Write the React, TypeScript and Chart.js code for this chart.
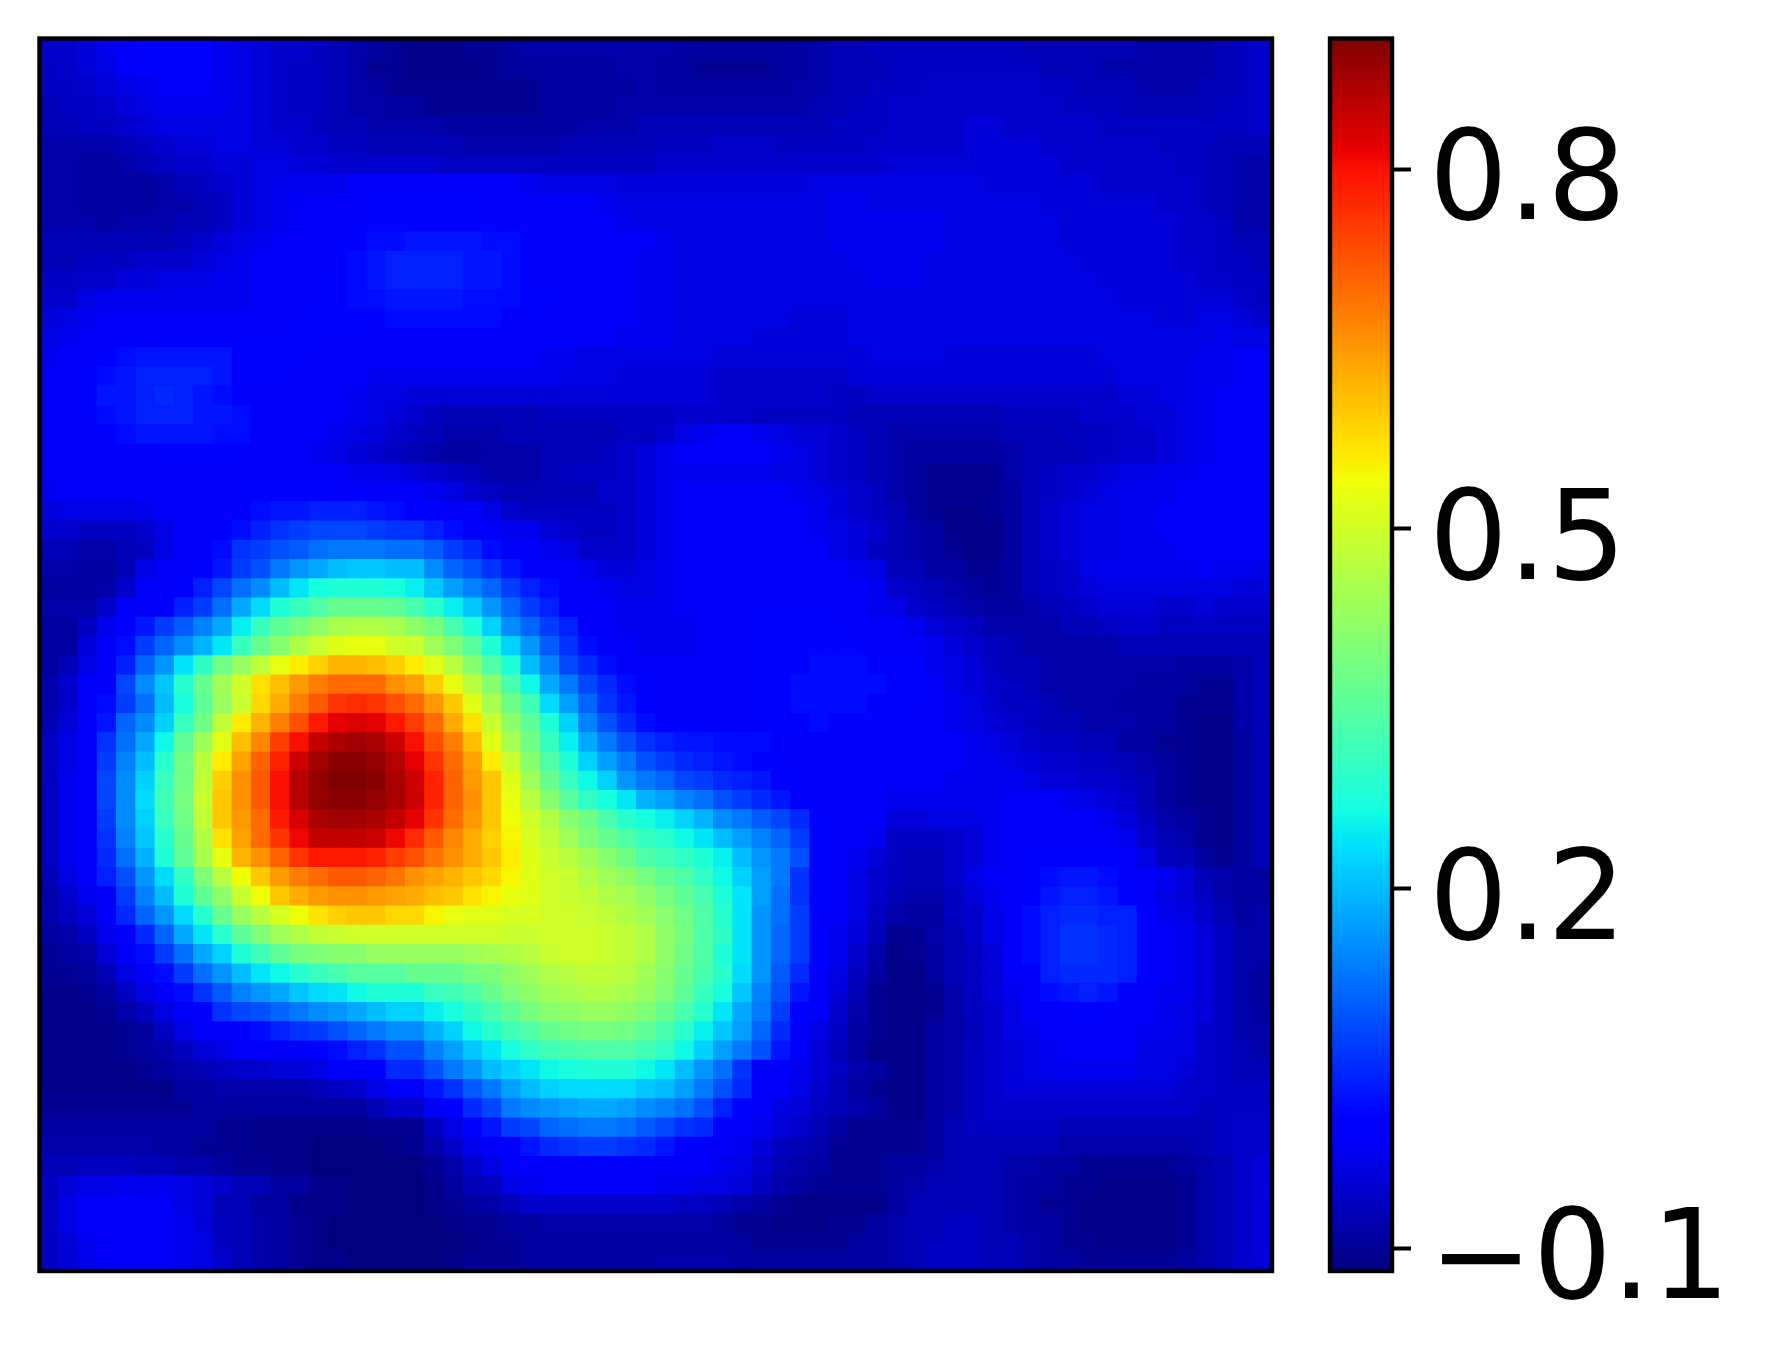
import React, { useEffect, useRef } from "react";
import { Chart, registerables } from "chart.js";

Chart.register(...registerables);

// Heat values x 100; row 0 is the top row.
const heatRows: number[][] = [
[-5,-5,-4,-2,-1,0,0,0, 0,-2,-3,-4,-5,-5,-6,-7, -8,-9,-10,-11,-11,-11,-10,-10, -9,-8,-8,-8,-8,-8,-8,-8, -8,-9,-9,-9,-9,-9,-9,-9, -8,-7,-7,-6,-6,-6,-6,-6, -6,-6,-6,-7,-7,-7,-7,-7, -7,-8,-8,-8,-8,-7,-6,-5],
[-6,-5,-4,-3,-1,0,0,0, 0,-2,-3,-4,-5,-6,-6,-7, -8,-10,-10,-11,-11,-11,-11,-10, -9,-9,-9,-9,-9,-9,-8,-8, -9,-9,-10,-10,-10,-10,-9,-9, -8,-7,-7,-7,-6,-6,-6,-6, -6,-6,-6,-6,-7,-7,-7,-8, -8,-8,-8,-8,-8,-7,-6,-5],
[-6,-6,-5,-4,-3,-2,-1,-1, -1,-2,-3,-4,-5,-6,-6,-7, -8,-9,-10,-10,-10,-10,-10,-10, -10,-10,-9,-9,-9,-9,-9,-8, -9,-9,-9,-9,-9,-9,-9,-8, -8,-7,-7,-6,-6,-6,-5,-5, -5,-5,-5,-5,-6,-6,-7,-7, -7,-8,-8,-8,-7,-7,-6,-5],
[-7,-6,-6,-5,-4,-3,-2,-2, -2,-2,-3,-4,-5,-6,-6,-7, -8,-8,-9,-9,-10,-10,-10,-10, -10,-10,-9,-9,-9,-9,-8,-8, -8,-8,-8,-8,-8,-8,-8,-8, -7,-7,-6,-6,-5,-5,-5,-5, -5,-5,-5,-5,-5,-6,-6,-6, -7,-7,-7,-7,-7,-6,-6,-5],
[-7,-7,-6,-6,-5,-4,-3,-3, -3,-3,-3,-4,-5,-5,-6,-7, -7,-8,-8,-8,-8,-9,-9,-9, -9,-9,-9,-9,-8,-8,-8,-7, -7,-7,-7,-7,-7,-7,-7,-7, -7,-6,-6,-6,-5,-5,-5,-5, -4,-4,-5,-5,-5,-5,-5,-6, -6,-6,-6,-6,-6,-6,-6,-5],
[-8,-8,-8,-8,-7,-6,-5,-4, -4,-3,-3,-4,-4,-5,-5,-6, -6,-7,-7,-7,-7,-7,-8,-8, -8,-8,-8,-7,-7,-7,-7,-7, -6,-6,-6,-5,-5,-5,-6,-6, -6,-6,-6,-5,-5,-5,-5,-5, -4,-4,-4,-4,-5,-5,-5,-5, -5,-5,-6,-6,-6,-7,-7,-7],
[-8,-8,-9,-9,-8,-7,-6,-5, -5,-4,-4,-3,-3,-4,-4,-5, -5,-5,-5,-5,-5,-6,-6,-6, -6,-6,-6,-6,-6,-6,-6,-6, -5,-5,-5,-5,-5,-5,-5,-5, -5,-5,-5,-5,-4,-4,-4,-4, -4,-4,-4,-4,-4,-5,-5,-5, -5,-5,-5,-6,-6,-7,-8,-8],
[-8,-8,-9,-9,-9,-9,-8,-7, -6,-5,-4,-3,-2,-2,-2,-2, -1,-1,-1,-1,-1,-1,-1,-1, -1,-2,-3,-3,-3,-3,-4,-4, -4,-4,-4,-4,-4,-4,-4,-4, -3,-3,-3,-3,-3,-3,-3,-3, -3,-4,-4,-4,-4,-4,-4,-5, -5,-5,-5,-5,-6,-7,-8,-8],
[-8,-8,-9,-9,-9,-9,-8,-8, -7,-6,-4,-3,-2,-1,-1,-1, -1,0,0,0,0,0,0,-1, -1,-1,-1,-1,-1,-2,-3,-3, -3,-3,-3,-3,-3,-3,-3,-3, -3,-2,-2,-3,-3,-3,-3,-3, -3,-3,-3,-3,-4,-4,-4,-4, -4,-4,-5,-5,-6,-7,-8,-8],
[-8,-8,-8,-9,-8,-8,-8,-7, -7,-6,-4,-3,-2,-1,-1,-1, 0,1,1,1,1,1,0,0, -1,-1,-1,-1,-1,-1,-2,-3, -3,-3,-3,-3,-3,-3,-3,-3, -3,-2,-2,-2,-2,-2,-2,-3, -3,-3,-3,-3,-3,-4,-4,-4, -4,-4,-4,-5,-5,-6,-8,-8],
[-7,-7,-7,-7,-7,-7,-7,-6, -5,-4,-3,-2,-1,-1,-1,1, 1,2,2,3,3,3,3,2, 2,-1,-1,-1,-1,-1,-1,-1, -2,-3,-3,-3,-3,-3,-3,-3, -3,-2,-2,-2,-2,-2,-2,-3, -3,-3,-3,-3,-3,-4,-4,-4, -4,-4,-4,-5,-5,-6,-7,-7],
[-7,-7,-6,-6,-6,-5,-5,-5, -4,-3,-2,-1,-1,-1,-1,0, 2,3,4,4,4,4,3,3, 2,0,-1,-1,-1,-1,-1,-2, -2,-3,-3,-3,-3,-3,-3,-3, -3,-3,-2,-2,-2,-2,-3,-3, -3,-3,-3,-3,-3,-3,-4,-4, -4,-4,-4,-5,-5,-6,-6,-7],
[-6,-6,-5,-5,-4,-4,-3,-3, -3,-2,-2,-1,-1,-1,0,1, 2,3,4,4,4,4,3,3, 2,1,-1,-1,-1,-1,-1,-2, -2,-3,-3,-3,-3,-3,-3,-3, -3,-3,-3,-2,-2,-2,-3,-3, -3,-3,-3,-3,-3,-3,-3,-4, -4,-4,-4,-4,-5,-5,-6,-6],
[-5,-5,-3,-2,-2,-2,-2,-2, -2,-2,-2,-1,-1,-1,0,1, 2,2,3,3,3,3,2,2, 2,1,0,-1,-1,-1,-1,-2, -2,-3,-3,-3,-3,-3,-3,-3, -3,-3,-3,-3,-3,-3,-3,-3, -3,-3,-3,-3,-3,-3,-3,-3, -4,-4,-4,-4,-4,-4,-5,-6],
[-4,-3,-2,-1,-1,-1,-1,-1, -1,-1,-1,-1,-1,0,0,1, 1,1,2,2,2,2,2,2, 1,1,-1,-1,-1,-1,-1,-2, -2,-3,-3,-3,-3,-3,-3,-4, -4,-4,-3,-3,-3,-3,-3,-3, -3,-3,-3,-3,-3,-3,-3,-3, -3,-3,-4,-4,-3,-3,-4,-5],
[-3,-2,-1,-1,-1,-1,0,1, 1,1,1,1,1,1,1,0, 0,-1,-1,-1,-1,-1,-1,-1, -1,-1,-1,-1,-1,-1,-2,-2, -2,-3,-3,-3,-3,-4,-4,-4, -4,-4,-3,-3,-3,-3,-3,-3, -3,-3,-3,-3,-3,-3,-3,-3, -3,-3,-3,-3,-3,-2,-3,-3],
[-2,-1,-1,0,2,3,3,3, 3,3,1,1,1,0,-1,-1, -1,-1,-1,-1,-1,-1,-1,-1, -1,-1,-2,-2,-3,-3,-3,-3, -3,-3,-3,-4,-4,-4,-4,-4, -4,-4,-4,-3,-3,-3,-3,-4, -4,-4,-4,-4,-4,-4,-4,-3, -3,-3,-3,-3,-2,-2,-1,-1],
[-1,-1,1,2,3,4,4,4, 4,3,1,0,0,-1,-1,-1, -1,-2,-2,-2,-2,-2,-2,-2, -2,-2,-2,-3,-3,-3,-4,-4, -4,-4,-4,-5,-5,-5,-5,-5, -5,-5,-4,-4,-4,-4,-4,-4, -4,-4,-4,-4,-4,-4,-4,-4, -3,-3,-3,-3,-2,-2,-1,-1],
[-1,-1,1,3,3,4,5,4, 3,2,1,-1,-1,-1,-1,-1, -2,-3,-3,-4,-4,-4,-4,-4, -4,-4,-4,-4,-4,-4,-4,-4, -4,-4,-4,-5,-5,-5,-5,-5, -5,-6,-6,-5,-5,-5,-5,-5, -5,-5,-5,-5,-5,-5,-5,-5, -4,-4,-3,-3,-2,-1,-1,-1],
[-1,-1,1,2,3,4,4,4, 3,3,2,-1,-1,-1,-1,-1, -2,-3,-4,-5,-6,-7,-7,-7, -7,-7,-6,-6,-6,-6,-6,-6, -6,-5,-5,-5,-5,-6,-6,-6, -6,-6,-7,-7,-7,-7,-7,-7, -7,-7,-6,-6,-6,-6,-5,-5, -5,-4,-4,-3,-2,-1,-1,-1],
[-1,-1,-1,1,2,3,3,3, 3,2,2,-1,-1,-1,-1,-2, -3,-4,-5,-6,-7,-8,-8,-8, -7,-7,-7,-7,-7,-7,-6,-6, -5,-3,-2,-1,-1,-2,-3,-4, -4,-5,-6,-7,-8,-8,-8,-8, -8,-8,-7,-7,-7,-6,-6,-6, -5,-5,-4,-3,-2,-1,-1,-1],
[-1,-1,-1,-1,-1,-1,1,1, 1,1,0,-1,-1,-1,-2,-3, -4,-5,-6,-7,-8,-9,-9,-8, -8,-8,-7,-7,-7,-6,-5,-4, -2,-1,-1,-1,-1,-1,-2,-3, -4,-5,-6,-7,-8,-9,-9,-9, -9,-9,-8,-7,-7,-7,-6,-6, -5,-5,-4,-3,-2,-1,-1,-1],
[-1,-1,-1,-1,-1,-1,-1,-1, -1,-1,-1,-1,-1,-1,-1,-1, -2,-2,-3,-4,-5,-6,-7,-8, -8,-8,-7,-6,-6,-6,-5,-4, -2,-2,-2,-2,-2,-2,-3,-3, -4,-5,-6,-7,-8,-9,-10,-10, -10,-10,-8,-7,-6,-5,-5,-4, -3,-3,-2,-2,-1,-1,-1,-1],
[-2,-1,-1,-1,-1,-1,-1,-1, -1,-1,0,0,0,0,0,0, 0,-1,-1,-1,-2,-3,-5,-6, -7,-7,-7,-7,-7,-5,-5,-4, -2,-1,-1,-1,-1,-1,-1,-2, -3,-4,-5,-6,-8,-9,-10,-10, -10,-10,-9,-7,-6,-5,-4,-3, -2,-2,-2,-1,-1,-1,-1,-1],
[-4,-3,-3,-3,-3,-2,-1,-1, -1,-1,1,2,3,3,4,4, 4,3,2,1,0,-1,-1,-3, -5,-6,-6,-6,-6,-6,-5,-4, -2,-1,-1,-1,-1,-1,-1,-1, -2,-4,-5,-6,-7,-9,-10,-11, -11,-10,-9,-7,-5,-4,-3,-3, -2,-2,-1,-1,-1,-1,-1,-1],
[-5,-5,-6,-6,-6,-5,-3,-1, -1,0,2,4,6,7,8,8, 8,7,6,6,4,2,-1,-1, -2,-2,-4,-5,-6,-6,-5,-4, -2,-1,-1,-1,-1,-1,-1,-1, -2,-3,-4,-5,-7,-8,-9,-11, -11,-11,-9,-7,-5,-4,-3,-3, -2,-2,-1,-1,-1,-1,-1,-1],
[-7,-7,-8,-8,-7,-6,-3,-1, -1,2,6,7,9,10,12,13, 13,13,12,12,10,7,5,2, -1,-1,-2,-3,-5,-5,-5,-4, -2,-1,-1,-1,-1,-1,-1,-1, -1,-3,-4,-6,-7,-8,-9,-10, -11,-11,-9,-7,-5,-4,-3,-3, -2,-2,-2,-1,-1,-1,-1,-1],
[-8,-8,-9,-9,-7,-3,-1,-1, 1,3,7,9,13,16,18,20, 21,21,20,20,15,11,9,6, 3,1,-1,-1,-2,-4,-4,-3, -2,-1,-1,-1,-1,-1,-1,-1, -1,-1,-2,-3,-7,-7,-9,-9, -10,-10,-9,-7,-6,-5,-3,-2, -2,-2,-2,-2,-1,-2,-2,-3],
[-9,-9,-9,-8,-5,-1,-1,1, 4,8,12,15,20,24,27,28, 28,28,27,25,21,17,14,11, 7,4,2,-1,-1,-2,-3,-3, -2,-1,-1,-1,-1,-1,-1,-1, -1,-1,-1,-2,-5,-6,-7,-8, -9,-10,-9,-7,-6,-5,-4,-3, -3,-3,-3,-3,-3,-3,-4,-4],
[-8,-8,-8,-5,-1,-1,1,4, 7,12,18,23,28,31,34,37, 37,37,36,33,29,25,21,16, 11,7,4,1,-1,-1,-2,-2, -2,-1,-1,-1,-1,0,0,0, 0,-1,-1,-2,-3,-5,-6,-7, -8,-9,-9,-8,-7,-6,-5,-4, -4,-4,-5,-5,-4,-5,-5,-5],
[-9,-9,-6,-2,0,3,7,10, 14,18,25,31,36,39,42,45, 46,46,45,42,39,33,28,22, 15,11,7,4,-1,-1,-2,-2, -2,-2,-1,-1,-1,0,1,1, 1,0,-1,-1,-1,-2,-4,-5, -6,-8,-8,-8,-8,-7,-7,-6, -5,-5,-6,-6,-6,-6,-6,-6],
[-9,-9,-4,-1,2,7,11,15, 19,24,31,37,41,46,49,52, 53,53,50,49,44,40,35,28, 22,16,10,6,2,-1,-1,-2, -2,-2,-1,-1,-1,0,1,1, 1,1,0,-1,-1,-1,-2,-4, -5,-6,-7,-8,-8,-8,-8,-8, -7,-7,-7,-7,-7,-7,-7,-7],
[-9,-7,-3,-1,4,11,16,24, 30,38,43,48,53,56,59,62, 62,61,59,56,52,47,41,34, 28,20,14,8,5,2,-1,-1, -1,-1,-1,-1,-1,0,1,1, 2,2,2,1,1,0,-2,-3, -4,-6,-7,-7,-8,-8,-8,-8, -8,-8,-8,-9,-9,-9,-8,-7],
[-8,-5,-1,1,8,15,21,29, 37,44,50,57,61,65,68,70, 70,70,66,64,59,53,47,41, 33,26,18,13,8,5,2,1, -1,-1,-1,-1,-1,0,1,2, 2,2,2,2,1,1,-1,-3, -4,-5,-6,-7,-8,-8,-8,-8, -8,-9,-9,-9,-10,-10,-8,-7],
[-8,-5,-1,2,7,12,20,27, 36,43,49,58,63,68,72,76, 77,76,73,70,65,60,52,45, 38,32,23,17,11,6,3,0, -1,-1,-1,-1,-1,0,1,2, 2,2,2,1,1,0,-1,-2, -3,-5,-6,-6,-7,-8,-8,-8, -9,-9,-9,-10,-10,-10,-8,-7],
[-7,-4,-1,3,11,15,22,31, 38,48,56,62,68,73,79,82, 83,82,79,75,70,63,57,49, 42,36,28,22,14,9,5,2, 1,0,-1,-1,-1,0,1,1, 2,1,1,1,0,-1,-1,-2, -3,-4,-5,-6,-7,-7,-8,-8, -8,-9,-9,-10,-11,-11,-8,-7],
[-6,-3,-1,6,12,18,26,36, 44,52,61,67,75,80,85,87, 88,87,84,80,73,68,61,52, 45,38,31,25,18,13,9,6, 4,3,3,2,2,2,0,-1, -1,-1,-1,-1,-1,-1,-1,-1, -2,-3,-4,-5,-6,-6,-7,-7, -9,-9,-10,-10,-11,-11,-9,-7],
[-6,-3,-1,7,14,20,29,38, 47,56,64,71,78,84,88,90, 90,89,86,82,76,70,64,56, 49,41,34,28,22,17,13,9, 7,5,4,3,2,1,0,-1, -1,-1,-1,-1,-1,-1,-1,-1, -2,-2,-3,-4,-5,-5,-6,-6, -7,-8,-9,-10,-11,-11,-9,-7],
[-6,-2,-1,8,15,22,31,38, 48,59,66,72,80,86,89,91, 91,90,87,84,78,71,65,60, 52,44,37,31,26,22,16,13, 11,8,7,5,4,3,1,1, -1,-1,-1,-1,-1,-1,-1,-2, -2,-2,-2,-3,-4,-4,-5,-5, -6,-7,-9,-10,-11,-11,-9,-7],
[-6,-2,-1,8,15,23,32,39, 49,60,66,72,80,86,89,90, 90,89,87,84,78,71,66,60, 53,47,41,35,30,27,24,19, 17,14,12,9,7,5,3,1, -1,-1,-1,-1,-2,-2,-2,-2, -2,-2,-1,-1,-1,-2,-3,-4, -5,-7,-9,-10,-11,-11,-9,-7],
[-6,-2,-1,7,15,22,31,38, 48,60,65,70,79,83,87,88, 88,87,85,82,76,70,65,60, 54,50,46,41,38,33,29,27, 25,22,19,15,13,10,8,5, 1,-1,-1,-1,-4,-4,-3,-3, -3,-2,-1,-1,-1,-1,-1,-2, -4,-6,-8,-9,-10,-11,-9,-7],
[-6,-2,-1,6,14,21,29,37, 46,57,64,70,76,81,85,85, 85,84,81,77,72,67,63,59, 55,51,48,44,40,37,34,31, 29,26,24,20,17,14,11,7, 1,-1,-1,-2,-6,-6,-6,-5, -4,-2,-1,-1,-1,-1,0,-1, -2,-5,-7,-8,-10,-11,-9,-7],
[-6,-2,-1,5,12,19,28,36, 45,53,62,66,71,76,79,79, 79,78,75,73,69,66,63,60, 56,52,49,47,44,41,38,34, 32,30,28,25,20,16,13,9, 1,-1,-2,-4,-6,-7,-7,-5, -4,-2,-1,0,1,1,1,0, -1,-3,-6,-7,-9,-10,-9,-7],
[-7,-3,-1,4,9,16,23,30, 40,47,54,60,65,68,70,72, 72,71,69,66,64,62,60,58, 55,52,50,49,46,44,42,39, 36,34,30,26,22,17,13,6, 1,-1,-3,-5,-6,-7,-7,-5, -3,-1,-1,1,2,3,3,2, 1,-1,-2,-4,-7,-8,-9,-9],
[-8,-5,-2,-1,7,14,20,28, 36,42,49,54,60,63,65,66, 66,65,64,63,61,60,57,55, 53,52,50,49,48,46,45,42, 39,36,33,28,24,17,12,6, 1,-1,-3,-5,-7,-8,-8,-6, -4,-2,-1,1,3,4,4,3, 1,-1,-3,-4,-6,-8,-9,-9],
[-8,-6,-4,-1,5,11,16,23, 29,37,43,47,51,54,57,59, 60,60,58,58,55,53,52,52, 51,51,50,50,49,48,46,44, 41,38,34,29,24,16,12,7, 1,-1,-3,-6,-8,-9,-9,-6, -5,-3,-1,2,4,5,5,4, 4,1,-2,-3,-5,-7,-9,-8],
[-9,-8,-6,-2,-1,5,11,18, 24,29,36,40,44,46,48,49, 50,50,50,50,50,50,50,50, 49,49,50,50,50,49,48,46, 42,39,34,30,24,16,11,7, 0,-2,-4,-7,-10,-10,-8,-7, -5,-3,-1,2,4,6,6,5, 4,1,-1,-2,-4,-6,-8,-8],
[-10,-9,-8,-4,-1,2,7,12, 18,22,28,32,36,39,40,41, 41,43,43,43,43,43,44,45, 46,47,49,50,50,49,48,46, 42,38,34,28,24,16,11,7, 0,-2,-5,-8,-11,-10,-9,-7, -6,-4,-1,2,4,6,6,5, 4,1,-1,-2,-4,-6,-8,-8],
[-10,-10,-9,-7,-3,-1,2,7, 12,16,20,24,26,29,31,33, 35,35,35,37,37,37,39,40, 42,44,46,47,48,48,47,44, 41,37,33,29,23,16,10,5, -1,-3,-6,-9,-11,-11,-9,-7, -6,-4,-1,1,4,5,5,5, 4,1,-1,-2,-4,-6,-8,-9],
[-11,-11,-10,-9,-6,-3,-1,2, 6,10,14,16,18,21,23,24, 26,28,28,28,31,32,34,37, 40,42,44,45,46,46,45,43, 40,36,31,27,21,14,9,3, -1,-4,-7,-10,-11,-11,-10,-8, -6,-4,-2,-1,2,3,4,3, 1,-1,-2,-2,-4,-6,-8,-9],
[-11,-11,-11,-10,-8,-6,-3,-1, 1,6,8,9,11,13,15,16, 18,20,22,22,25,27,30,33, 36,39,41,42,43,43,42,40, 37,33,29,24,18,13,7,0, -1,-5,-8,-10,-11,-11,-10,-8, -6,-5,-3,-1,-1,1,1,1, -1,-1,-2,-3,-4,-6,-8,-9],
[-11,-11,-11,-11,-10,-9,-6,-3, -1,-1,1,2,4,6,7,9, 11,13,15,15,19,22,26,29, 32,34,37,38,39,39,38,36, 33,29,25,21,17,11,5,-1, -3,-6,-9,-10,-11,-11,-9,-8, -7,-5,-3,-2,-1,-1,-1,-1, -1,-2,-2,-3,-5,-6,-8,-8],
[-11,-11,-11,-11,-10,-9,-8,-6, -4,-3,-1,-1,-1,-1,1,2, 4,6,9,9,14,17,21,24, 27,30,32,33,34,34,34,32, 30,26,22,17,13,9,3,-1, -4,-7,-9,-11,-11,-11,-9,-8, -6,-5,-4,-3,-2,-1,-1,-1, -1,-3,-3,-3,-5,-6,-7,-8],
[-11,-11,-11,-11,-11,-10,-9,-8, -7,-6,-5,-5,-4,-4,-3,-1, -1,1,5,5,9,13,16,20, 22,24,26,27,28,28,28,26, 24,20,16,12,6,-1,-1,-2, -4,-6,-8,-9,-11,-11,-9,-8, -6,-5,-4,-3,-2,-2,-2,-2, -2,-3,-3,-4,-5,-6,-7,-7],
[-11,-11,-11,-11,-11,-11,-11,-9, -9,-8,-8,-8,-8,-8,-7,-6, -5,-3,-1,-1,3,6,10,13, 17,20,22,23,23,23,23,21, 20,17,13,9,5,-1,-1,-3, -5,-7,-9,-10,-11,-11,-9,-8, -6,-5,-4,-4,-4,-4,-4,-4, -4,-4,-4,-5,-5,-6,-6,-6],
[-10,-10,-10,-10,-10,-10,-10,-10, -9,-9,-9,-9,-9,-9,-9,-9, -9,-7,-5,-5,-1,1,5,8, 13,15,16,17,18,18,17,15, 14,12,9,4,0,-1,-3,-4, -6,-7,-8,-9,-11,-11,-9,-8, -6,-5,-5,-5,-5,-5,-5,-5, -5,-5,-5,-5,-6,-6,-6,-6],
[-9,-9,-9,-9,-9,-9,-9,-9, -9,-10,-10,-11,-11,-11,-11,-11, -11,-10,-10,-10,-6,-3,0,3, 7,8,11,12,13,13,12,10, 8,6,5,1,-1,-2,-4,-5, -7,-9,-10,-10,-10,-10,-9,-7, -6,-6,-6,-6,-6,-7,-7,-7, -7,-7,-7,-7,-7,-6,-5,-5],
[-8,-8,-8,-8,-8,-8,-9,-9, -10,-10,-10,-11,-11,-11,-12,-12, -12,-12,-11,-10,-8,-5,-2,-1, 1,3,5,6,7,7,6,5, 3,1,-1,-1,-2,-4,-6,-7, -8,-10,-10,-10,-10,-10,-9,-7, -7,-7,-7,-7,-7,-8,-8,-8, -8,-8,-8,-8,-7,-6,-5,-5],
[-7,-7,-6,-6,-6,-7,-7,-8, -8,-9,-10,-10,-11,-11,-12,-12, -12,-12,-12,-12,-10,-8,-5,-3, -1,-1,-1,-1,0,1,1,0, -1,-1,-1,-2,-3,-5,-7,-8, -9,-10,-10,-10,-9,-9,-8,-7, -7,-7,-8,-8,-9,-9,-10,-10, -10,-10,-10,-9,-8,-7,-5,-4],
[-6,-4,-3,-3,-2,-2,-2,-3, -4,-5,-7,-7,-9,-9,-11,-11, -12,-12,-12,-12,-11,-9,-7,-6, -3,-2,-1,-1,-1,-1,-1,-1, -2,-2,-3,-3,-4,-6,-8,-9, -10,-10,-10,-10,-9,-8,-7,-7, -7,-7,-8,-9,-9,-10,-10,-11, -11,-11,-11,-10,-8,-7,-5,-4],
[-6,-3,-1,-1,-1,-1,-1,-3, -4,-7,-7,-9,-9,-11,-11,-11, -12,-12,-12,-12,-11,-10,-9,-8, -7,-5,-5,-5,-5,-5,-5,-5, -5,-6,-6,-7,-8,-9,-10,-11, -11,-11,-11,-11,-9,-7,-7,-7, -7,-7,-8,-9,-10,-10,-11,-11, -11,-11,-11,-10,-8,-7,-5,-4],
[-6,-3,-1,-1,-1,-1,-1,-2, -4,-6,-7,-8,-9,-10,-11,-12, -12,-12,-12,-12,-12,-11,-10,-10, -9,-9,-8,-8,-8,-8,-8,-8, -8,-8,-8,-9,-10,-10,-11,-11, -11,-10,-10,-9,-8,-7,-7,-6, -6,-7,-8,-9,-9,-10,-11,-11, -11,-11,-11,-10,-8,-7,-5,-4],
[-6,-4,-2,-1,-1,-1,-1,-2, -3,-6,-7,-8,-9,-10,-11,-12, -12,-12,-12,-12,-12,-12,-11,-10, -10,-9,-9,-9,-9,-9,-9,-9, -9,-9,-9,-9,-9,-10,-10,-10, -10,-10,-9,-9,-8,-7,-6,-6, -6,-7,-7,-8,-9,-10,-10,-11, -11,-11,-11,-10,-8,-7,-5,-4],
[-6,-4,-2,-1,-1,-1,-1,-2, -3,-5,-7,-8,-9,-10,-11,-11, -12,-12,-12,-12,-12,-11,-10,-10, -10,-9,-9,-9,-9,-9,-9,-9, -8,-8,-8,-8,-9,-9,-9,-9, -9,-9,-9,-9,-8,-7,-6,-6, -6,-7,-7,-8,-9,-9,-10,-10, -10,-10,-10,-9,-8,-7,-5,-4],
];

const colorMin = -0.119;
const colorMax = 0.909;
const colorbarTicks = [-0.1, 0.2, 0.5, 0.8];
const colorbarLabels = ["\u22120.1", "0.2", "0.5", "0.8"];

const jetStops = [0, 0.11, 0.125, 0.34, 0.35, 0.375, 0.64, 0.65, 0.66, 0.89, 0.91, 1];

function lerpAt(t: number, pts: number[][]) {
  for (let i = 1; i < pts.length; i++) {
    if (t <= pts[i][0]) {
      const [a, va] = pts[i - 1];
      const [b, vb] = pts[i];
      return va + ((vb - va) * (t - a)) / (b - a);
    }
  }
  return pts[pts.length - 1][1];
}

function jetAt(tRaw: number) {
  const t = Math.max(0, Math.min(1, tRaw));
  const r = lerpAt(t, [[0, 0], [0.35, 0], [0.66, 1], [0.89, 1], [1, 0.5]]);
  const g = lerpAt(t, [[0, 0], [0.125, 0], [0.375, 1], [0.64, 1], [0.91, 0], [1, 0]]);
  const b = lerpAt(t, [[0, 0.5], [0.11, 1], [0.34, 1], [0.65, 0], [1, 0]]);
  return `rgb(${Math.round(r * 255)},${Math.round(g * 255)},${Math.round(b * 255)})`;
}

const valueColor = (v: number) => jetAt((v - colorMin) / (colorMax - colorMin));

const framePlugin = {
  id: "frame",
  afterDraw(chart: any) {
    const { ctx, chartArea: a } = chart;
    ctx.save();
    ctx.strokeStyle = "#000";
    ctx.lineWidth = 4.4;
    ctx.strokeRect(a.left, a.top, a.right - a.left, a.bottom - a.top);
    ctx.restore();
  },
};

export default function App() {
  const heatRef = useRef<HTMLCanvasElement>(null);
  const barRef = useRef<HTMLCanvasElement>(null);

  useEffect(() => {
    const columns = heatRows[0].map((_, i) => String(i));
    const heat = new Chart(heatRef.current!, {
      type: "bar",
      data: {
        labels: columns,
        datasets: heatRows.map((row, r) => ({
          label: `row ${r}`,
          data: row.map(() => [r, r + 1]),
          backgroundColor: row.map((v) => valueColor(v / 100)),
          borderWidth: 0,
          inflateAmount: 0.5,
          barPercentage: 1,
          categoryPercentage: 1,
          grouped: false,
        })),
      } as any,
      options: {
        responsive: false,
        animation: false,
        events: [],
        layout: { padding: { left: 39.5, top: 38.5, right: 495, bottom: 90 } },
        plugins: { legend: { display: false }, tooltip: { enabled: false } },
        scales: {
          x: { display: false, type: "category" },
          y: { display: false, type: "linear", min: 0, max: heatRows.length, reverse: true },
        },
      } as any,
      plugins: [framePlugin],
    });

    const bar = new Chart(barRef.current!, {
      type: "bar",
      data: {
        labels: ["colorbar"],
        datasets: [
          {
            label: "scale",
            data: [[colorMin, colorMax]],
            borderWidth: 0,
            barPercentage: 1,
            categoryPercentage: 1,
            backgroundColor: (c: any) => {
              const a = c.chart.chartArea;
              if (!a) return "#000";
              const g = c.chart.ctx.createLinearGradient(0, a.bottom, 0, a.top);
              jetStops.forEach((s) => g.addColorStop(s, jetAt(s)));
              return g;
            },
          },
        ],
      } as any,
      options: {
        responsive: false,
        animation: false,
        events: [],
        layout: { padding: { left: 1330, top: 38.5, right: 0, bottom: 90 } },
        plugins: { legend: { display: false }, tooltip: { enabled: false } },
        scales: {
          x: { display: false, type: "category" },
          y: {
            type: "linear",
            position: "right",
            min: colorMin,
            max: colorMax,
            afterBuildTicks: (axis: any) => {
              axis.ticks = colorbarTicks.map((value) => ({ value }));
            },
            afterFit: (axis: any) => {
              axis.width = 375;
              axis.paddingTop = 0;
              axis.paddingBottom = 0;
            },
            border: { display: false },
            grid: {
              drawOnChartArea: false,
              drawTicks: true,
              tickLength: 19,
              tickWidth: 4,
              tickColor: "#000",
            },
            ticks: {
              autoSkip: false,
              maxRotation: 0,
              minRotation: 0,
              padding: 18,
              labelOffset: 18,
              color: "#000",
              font: { family: "'DejaVu Sans'", size: 124 },
              callback: (v: number) => colorbarLabels[colorbarTicks.indexOf(v)],
            },
          },
        },
      } as any,
      plugins: [framePlugin],
    });

    return () => {
      heat.destroy();
      bar.destroy();
    };
  }, []);

  const layer: React.CSSProperties = { position: "absolute", left: 0, top: 0, width: 1767, height: 1361 };
  return (
    <div style={{ ...layer, background: "#fff" }}>
      <canvas ref={heatRef} width={1767} height={1361} style={layer} />
      <canvas ref={barRef} width={1767} height={1361} style={layer} />
    </div>
  );
}
